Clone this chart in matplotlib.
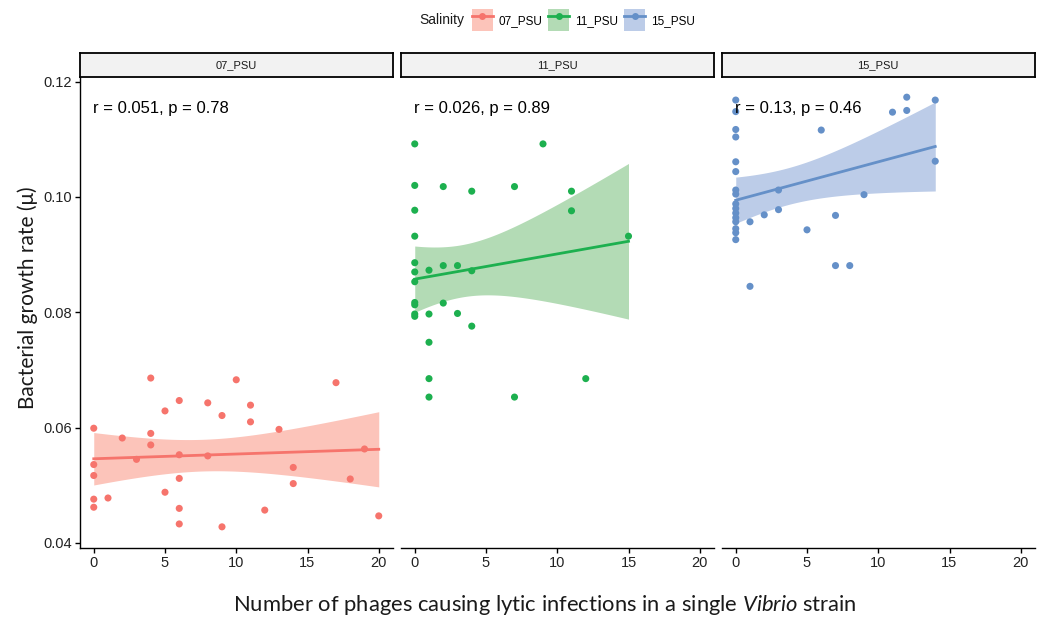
import numpy as np
import matplotlib
matplotlib.use("Agg")
import matplotlib.pyplot as plt
from matplotlib.patches import Patch
from matplotlib.lines import Line2D
from matplotlib.legend_handler import HandlerTuple

# ---------------- data ----------------
groups = ["07_PSU", "11_PSU", "15_PSU"]
annotations = ["r = 0.051, p = 0.78", "r = 0.026, p = 0.89", "r = 0.13, p = 0.46"]

x_07 = [0, 4, 10, 17, 6, 5, 8, 9, 11, 11, 13, 2, 4, 4, 3, 6, 8, 19, 0, 0, 14, 14,
        6, 18, 5, 0, 1, 0, 6, 12, 6, 9, 20]
y_07 = [0.0599, 0.0686, 0.0683, 0.0678, 0.0647, 0.0629, 0.0643, 0.0621, 0.0639, 0.0610,
        0.0597, 0.0582, 0.0590, 0.0570, 0.0545, 0.0553, 0.0551, 0.0563, 0.0536, 0.0517,
        0.0531, 0.0503, 0.0512, 0.0511, 0.0488, 0.0476, 0.0478, 0.0462, 0.0460, 0.0457,
        0.0433, 0.0428, 0.0447]

x_11 = [0, 9, 0, 2, 4, 7, 11, 11, 0, 0, 15, 0, 0, 1, 2, 3, 4, 0, 0, 0, 0, 0,
        1, 2, 3, 4, 1, 1, 12, 1, 7]
y_11 = [0.1092, 0.1092, 0.1020, 0.1018, 0.1010, 0.1018, 0.1010, 0.0976, 0.0977, 0.0932,
        0.0932, 0.0886, 0.0870, 0.0873, 0.0881, 0.0881, 0.0872, 0.0853, 0.0817, 0.0813,
        0.0797, 0.0793, 0.0797, 0.0816, 0.0798, 0.0776, 0.0748, 0.0685, 0.0685, 0.0653,
        0.0653]

x_15 = [0, 0, 0, 0, 0, 0, 0, 0, 0, 0, 0, 0, 0, 0, 0, 0,
        1, 1, 2, 3, 3, 5, 6, 7, 7, 8, 9, 11, 12, 12, 14, 14]
y_15 = [0.1168, 0.1148, 0.1117, 0.1104, 0.1061, 0.1044, 0.1012, 0.1005, 0.0988, 0.0980,
        0.0972, 0.0964, 0.0957, 0.0945, 0.0938, 0.0926,
        0.0957, 0.0845, 0.0969, 0.1012, 0.0978, 0.0943, 0.1116, 0.0968, 0.0881, 0.0881,
        0.1004, 0.1147, 0.1173, 0.1150, 0.1168, 0.1062]

xs = [x_07, x_11, x_15]
ys = [y_07, y_11, y_15]

point_colors = ["#F6746C", "#1DB04F", "#6590C8"]
band_colors = ["#FCC4BA", "#B3DBB5", "#BCCCE8"]

x_ticks = [0, 5, 10, 15, 20]
y_ticks = [0.04, 0.06, 0.08, 0.10, 0.12]
y_ticklabels = ["0.04", "0.06", "0.08", "0.10", "0.12"]

# ---------------- helpers ----------------
def t975(df):
    z = 1.959964
    g1 = (z**3 + z) / 4
    g2 = (5 * z**5 + 16 * z**3 + 3 * z) / 96
    g3 = (3 * z**7 + 19 * z**5 + 17 * z**3 - 15 * z) / 384
    return z + g1 / df + g2 / df**2 + g3 / df**3

def fit_band(x, y):
    x = np.asarray(x, float); y = np.asarray(y, float)
    n = len(x)
    b, a = np.polyfit(x, y, 1)
    resid = y - (a + b * x)
    s = np.sqrt(np.sum(resid**2) / (n - 2))
    xbar = x.mean(); sxx = np.sum((x - xbar)**2)
    xg = np.linspace(x.min(), x.max(), 100)
    yg = a + b * xg
    se = s * np.sqrt(1 / n + (xg - xbar)**2 / sxx)
    t = t975(n - 2)
    return xg, yg, yg - t * se, yg + t * se

# ---------------- figure ----------------
plt.rcParams["mathtext.fontset"] = "custom"
plt.rcParams["mathtext.rm"] = "Lato"
plt.rcParams["mathtext.it"] = "Lato:italic"

W, H = 1037, 621
fig = plt.figure(figsize=(W / 100, H / 100), dpi=100)

lefts = [79.5, 400.5, 721.5]
right_w = 313.5
ax_bottom = 548
ax_top = 77
strip_top = 53

for i in range(3):
    ax = fig.add_axes([lefts[i] / W, 1 - ax_bottom / H, right_w / W, (ax_bottom - ax_top) / H])
    xg, yg, lo, hi = fit_band(xs[i], ys[i])
    ax.fill_between(xg, lo, hi, color=band_colors[i], lw=0, zorder=1)
    ax.plot(xg, yg, color=point_colors[i], lw=2, zorder=2)
    ax.scatter(xs[i], ys[i], s=26, color=point_colors[i], edgecolors="none", zorder=3)
    ax.set_xlim(-1, 21)
    ax.set_ylim(0.03913, 0.1208)
    ax.set_xticks(x_ticks)
    ax.set_xticklabels([str(t) for t in x_ticks], fontfamily="Liberation Sans", fontsize=10.5)
    ax.tick_params(axis="both", length=3.5, width=1, color="black", labelcolor="#222222", pad=2)
    for side in ["top", "right"]:
        ax.spines[side].set_visible(False)
    ax.spines["bottom"].set_linewidth(1)
    ax.spines["left"].set_linewidth(1)
    if i == 0:
        ax.set_yticks(y_ticks)
        ax.set_yticklabels(y_ticklabels, fontfamily="Liberation Sans", fontsize=10.5)
    else:
        ax.set_yticks([])
        ax.spines["left"].set_visible(False)
    ax.text(-0.07, 0.1154, annotations[i], ha="left", va="center",
            fontfamily="Liberation Sans", fontsize=12, color="black")
    # strip
    sx = fig.add_axes([lefts[i] / W, 1 - ax_top / H, right_w / W, (ax_top - strip_top) / H])
    sx.set_xticks([]); sx.set_yticks([])
    sx.set_facecolor("#F2F2F2")
    for sp in sx.spines.values():
        sp.set_linewidth(1.3)
        sp.set_color("black")
    sx.text(0.5, 0.5, groups[i], ha="center", va="center", transform=sx.transAxes,
            fontfamily="Liberation Sans", fontsize=8, color="#1a1a1a")

fig.text(28 / W, 1 - 298 / H, "Bacterial growth rate (\u03bc)", rotation=90,
         ha="center", va="center", fontfamily="Lato", fontsize=15, color="#1a1a1a")
fig.text(545 / W, 1 - 605 / H,
         "Number of phages causing lytic infections in a single $\\mathit{Vibrio}$ strain",
         ha="center", va="center", fontfamily="Lato", fontsize=15.8, color="#1a1a1a")

# legend
handles = []
for i in range(3):
    handles.append((Patch(facecolor=band_colors[i], edgecolor="none"),
                    Line2D([0], [0], color=point_colors[i], lw=2, marker="o",
                           markersize=5, markeredgecolor="none")))
fig.text(419 / W, 1 - 20 / H, "Salinity", ha="left", va="center",
         fontfamily="Liberation Sans", fontsize=10, color="#1a1a1a")
leg = fig.legend(handles, groups, loc="center left", bbox_to_anchor=(466 / W, 1 - 20 / H),
                 ncol=3, frameon=False, borderpad=0,
                 handler_map={tuple: HandlerTuple(ndivide=1, pad=0)},
                 handlelength=1.75, handleheight=2.4, handletextpad=0.5, columnspacing=0.52,
                 prop={"family": "Liberation Sans", "size": 8.5})

fig.savefig("out.png", dpi=100)
